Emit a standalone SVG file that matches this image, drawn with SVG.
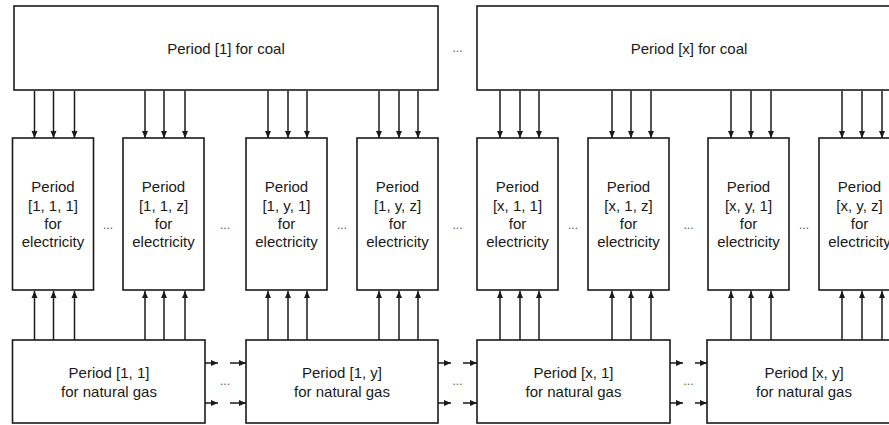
<svg xmlns="http://www.w3.org/2000/svg" width="889" height="425" viewBox="0 0 889 425">
<style>
.box{fill:#fff;stroke:#1a1a1a;stroke-width:1.6}
.lbl{font-family:"Liberation Sans",Arial,sans-serif;font-size:15px;fill:#1a1a1a;text-anchor:middle}
.dots{font-family:"Liberation Sans",Arial,sans-serif;font-size:12px;fill:#555;text-anchor:middle}
line{stroke:#1a1a1a;stroke-width:1.5;marker-end:url(#ah)}
</style>
<defs>
<marker id="ah" markerUnits="userSpaceOnUse" markerWidth="7" markerHeight="7" viewBox="0 0 7 7" refX="7" refY="3.5" orient="auto">
<path d="M0,0.5 L7,3.5 L0,6.5 Z" fill="#1a1a1a"/>
</marker>
</defs>
<rect width="889" height="425" fill="#fff"/>
<g id="connectors">
<line x1="34.5" y1="91" x2="34.5" y2="138"/><line x1="53.5" y1="91" x2="53.5" y2="138"/><line x1="74.5" y1="91" x2="74.5" y2="138"/>
<line x1="145" y1="91" x2="145" y2="138"/><line x1="164" y1="91" x2="164" y2="138"/><line x1="185" y1="91" x2="185" y2="138"/>
<line x1="268" y1="91" x2="268" y2="138"/><line x1="288" y1="91" x2="288" y2="138"/><line x1="307" y1="91" x2="307" y2="138"/>
<line x1="379" y1="91" x2="379" y2="138"/><line x1="399" y1="91" x2="399" y2="138"/><line x1="418" y1="91" x2="418" y2="138"/>
<line x1="500" y1="91" x2="500" y2="138"/><line x1="520" y1="91" x2="520" y2="138"/><line x1="539" y1="91" x2="539" y2="138"/>
<line x1="612" y1="91" x2="612" y2="138"/><line x1="631" y1="91" x2="631" y2="138"/><line x1="651" y1="91" x2="651" y2="138"/>
<line x1="731" y1="91" x2="731" y2="138"/><line x1="751" y1="91" x2="751" y2="138"/><line x1="771" y1="91" x2="771" y2="138"/>
<line x1="842" y1="91" x2="842" y2="138"/><line x1="862" y1="91" x2="862" y2="138"/><line x1="882" y1="91" x2="882" y2="138"/>
<line x1="34.5" y1="340" x2="34.5" y2="291"/><line x1="53.5" y1="340" x2="53.5" y2="291"/><line x1="74.5" y1="340" x2="74.5" y2="291"/>
<line x1="145" y1="340" x2="145" y2="291"/><line x1="164" y1="340" x2="164" y2="291"/><line x1="185" y1="340" x2="185" y2="291"/>
<line x1="268" y1="340" x2="268" y2="291"/><line x1="288" y1="340" x2="288" y2="291"/><line x1="307" y1="340" x2="307" y2="291"/>
<line x1="379" y1="340" x2="379" y2="291"/><line x1="399" y1="340" x2="399" y2="291"/><line x1="418" y1="340" x2="418" y2="291"/>
<line x1="500" y1="340" x2="500" y2="291"/><line x1="520" y1="340" x2="520" y2="291"/><line x1="539" y1="340" x2="539" y2="291"/>
<line x1="612" y1="340" x2="612" y2="291"/><line x1="631" y1="340" x2="631" y2="291"/><line x1="651" y1="340" x2="651" y2="291"/>
<line x1="731" y1="340" x2="731" y2="291"/><line x1="751" y1="340" x2="751" y2="291"/><line x1="771" y1="340" x2="771" y2="291"/>
<line x1="842" y1="340" x2="842" y2="291"/><line x1="862" y1="340" x2="862" y2="291"/><line x1="882" y1="340" x2="882" y2="291"/>
<line x1="205" y1="363" x2="218" y2="363"/><line x1="230" y1="363" x2="246" y2="363"/><line x1="205" y1="403" x2="218" y2="403"/><line x1="230" y1="403" x2="246" y2="403"/>
<line x1="438" y1="363" x2="451" y2="363"/><line x1="463" y1="363" x2="477" y2="363"/><line x1="438" y1="403" x2="451" y2="403"/><line x1="463" y1="403" x2="477" y2="403"/>
<line x1="670" y1="363" x2="683" y2="363"/><line x1="695" y1="363" x2="707" y2="363"/><line x1="670" y1="403" x2="683" y2="403"/><line x1="695" y1="403" x2="707" y2="403"/>
</g>
<g id="coal-1"><rect class="box" x="14" y="6" width="424" height="84"/><text class="lbl" x="226" y="54">Period [1] for coal</text></g>
<g id="coal-x"><rect class="box" x="477" y="6" width="424" height="84"/><text class="lbl" x="689" y="54">Period [x] for coal</text></g>
<g id="elec-1-1-1"><rect class="box" x="12.5" y="138" width="81" height="152"/><text class="lbl" x="53" y="192">Period</text><text class="lbl" x="53" y="211">[1, 1, 1]</text><text class="lbl" x="53" y="229">for</text><text class="lbl" x="53" y="247">electricity</text></g>
<g id="elec-1-1-z"><rect class="box" x="123" y="138" width="81" height="152"/><text class="lbl" x="163.5" y="192">Period</text><text class="lbl" x="163.5" y="211">[1, 1, z]</text><text class="lbl" x="163.5" y="229">for</text><text class="lbl" x="163.5" y="247">electricity</text></g>
<g id="elec-1-y-1"><rect class="box" x="246" y="138" width="81" height="152"/><text class="lbl" x="286.5" y="192">Period</text><text class="lbl" x="286.5" y="211">[1, y, 1]</text><text class="lbl" x="286.5" y="229">for</text><text class="lbl" x="286.5" y="247">electricity</text></g>
<g id="elec-1-y-z"><rect class="box" x="357" y="138" width="81" height="152"/><text class="lbl" x="397.5" y="192">Period</text><text class="lbl" x="397.5" y="211">[1, y, z]</text><text class="lbl" x="397.5" y="229">for</text><text class="lbl" x="397.5" y="247">electricity</text></g>
<g id="elec-x-1-1"><rect class="box" x="477" y="138" width="81" height="152"/><text class="lbl" x="517.5" y="192">Period</text><text class="lbl" x="517.5" y="211">[x, 1, 1]</text><text class="lbl" x="517.5" y="229">for</text><text class="lbl" x="517.5" y="247">electricity</text></g>
<g id="elec-x-1-z"><rect class="box" x="588" y="138" width="81" height="152"/><text class="lbl" x="628.5" y="192">Period</text><text class="lbl" x="628.5" y="211">[x, 1, z]</text><text class="lbl" x="628.5" y="229">for</text><text class="lbl" x="628.5" y="247">electricity</text></g>
<g id="elec-x-y-1"><rect class="box" x="708" y="138" width="81" height="152"/><text class="lbl" x="748.5" y="192">Period</text><text class="lbl" x="748.5" y="211">[x, y, 1]</text><text class="lbl" x="748.5" y="229">for</text><text class="lbl" x="748.5" y="247">electricity</text></g>
<g id="elec-x-y-z"><rect class="box" x="819" y="138" width="81" height="152"/><text class="lbl" x="859.5" y="192">Period</text><text class="lbl" x="859.5" y="211">[x, y, z]</text><text class="lbl" x="859.5" y="229">for</text><text class="lbl" x="859.5" y="247">electricity</text></g>
<g id="gas-1-1"><rect class="box" x="12.5" y="340" width="192.5" height="83"/><text class="lbl" x="109" y="378">Period [1, 1]</text><text class="lbl" x="109" y="397">for natural gas</text></g>
<g id="gas-1-y"><rect class="box" x="246" y="340" width="192" height="83"/><text class="lbl" x="342" y="378">Period [1, y]</text><text class="lbl" x="342" y="397">for natural gas</text></g>
<g id="gas-x-1"><rect class="box" x="477" y="340" width="193" height="83"/><text class="lbl" x="573.5" y="378">Period [x, 1]</text><text class="lbl" x="573.5" y="397">for natural gas</text></g>
<g id="gas-x-y"><rect class="box" x="707" y="340" width="194" height="83"/><text class="lbl" x="804" y="378">Period [x, y]</text><text class="lbl" x="804" y="397">for natural gas</text></g>
<g id="ellipses">
<text class="dots" x="457.5" y="52">...</text>
<text class="dots" x="108" y="229">...</text>
<text class="dots" x="225" y="229">...</text>
<text class="dots" x="342" y="229">...</text>
<text class="dots" x="457.5" y="229">...</text>
<text class="dots" x="573" y="229">...</text>
<text class="dots" x="688.5" y="229">...</text>
<text class="dots" x="804" y="229">...</text>
<text class="dots" x="225" y="385">...</text>
<text class="dots" x="457.5" y="385">...</text>
<text class="dots" x="688.5" y="385">...</text>
</g>
</svg>
